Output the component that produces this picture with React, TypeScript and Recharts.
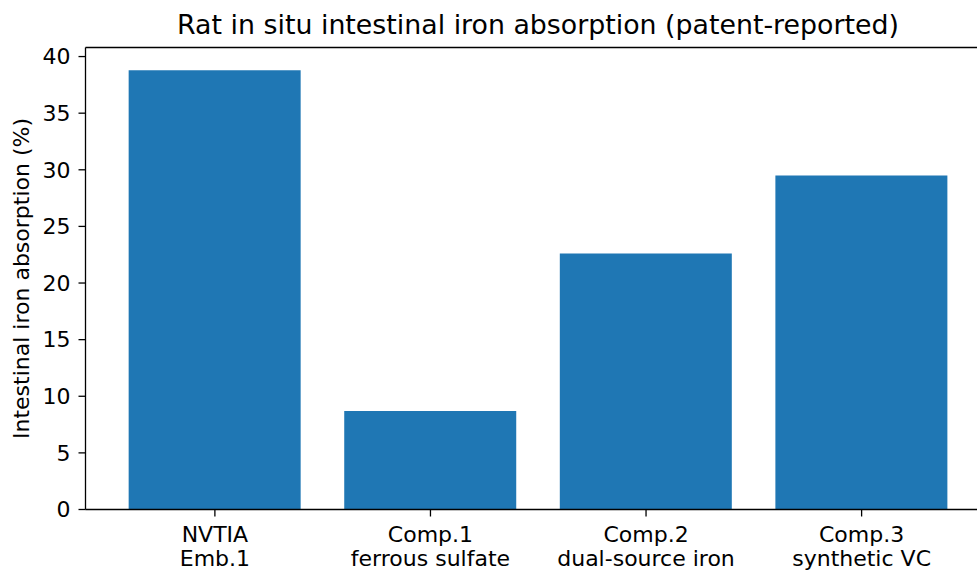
import React from "react";
import { BarChart, Bar, XAxis, YAxis, ReferenceLine } from "recharts";

const categories = ["NVTIA\nEmb.1", "Comp.1\nferrous sulfate", "Comp.2\ndual-source iron", "Comp.3\nsynthetic VC"];
const absorption = [38.8, 8.7, 22.6, 29.5];
const yTicks = [0, 5, 10, 15, 20, 25, 30, 35, 40];
const yMax = 40.8;

const data = categories.map((c, i) => ({ name: c, value: absorption[i] }));

const FONT = "DejaVu Sans";

const TwoLineTick = (props: any) => {
  const { x, y, payload } = props;
  const lines = String(payload.value).split("\n");
  return (
    <text x={x} y={y} textAnchor="middle" fontFamily={FONT} fontSize={22} fill="#000">
      {lines.map((l, i) => (
        <tspan key={i} x={x} dy={i === 0 ? 25 : 24}>
          {l}
        </tspan>
      ))}
    </text>
  );
};

export default function App() {
  return (
    <div style={{ position: "absolute", left: 0, top: 0, width: 977, height: 570, overflow: "hidden", background: "#fff" }}>
      <svg style={{ position: "absolute", left: 0, top: 0 }} width={977} height={60}>
        <text x={538} y={34} textAnchor="middle" fontFamily={FONT} fontSize={26.8} fill="#000">
          Rat in situ intestinal iron absorption (patent-reported)
        </text>
      </svg>
      <svg style={{ position: "absolute", left: 0, top: 0 }} width={60} height={570}>
        <text
          x={0}
          y={0}
          transform="translate(29,278.5) rotate(-90)"
          textAnchor="middle"
          fontFamily={FONT}
          fontSize={22}
          fill="#000"
        >
          Intestinal iron absorption (%)
        </text>
      </svg>
      <div style={{ position: "absolute", left: 0, top: 0 }}>
        <BarChart
          width={1000}
          height={570}
          data={data}
          margin={{ top: 47.5, right: 9, bottom: 0.5, left: 0 }}
          barCategoryGap="10%"
        >
          <XAxis
            dataKey="name"
            interval={0}
            height={60}
            padding={{ left: 21.6, right: 21.6 }}
            tickSize={7}
            tickMargin={0}
            tick={<TwoLineTick />}
            axisLine={{ stroke: "#000", strokeWidth: 1.3 }}
            tickLine={{ stroke: "#000", strokeWidth: 1.3 }}
          />
          <YAxis
            width={85.5}
            domain={[0, yMax]}
            ticks={yTicks}
            tickSize={7}
            tickMargin={8}
            tick={{ fontFamily: FONT, fontSize: 22, fill: "#000" }}
            axisLine={{ stroke: "#000", strokeWidth: 1.3 }}
            tickLine={{ stroke: "#000", strokeWidth: 1.3 }}
          />
          <ReferenceLine y={yMax} stroke="#000" strokeWidth={1.3} ifOverflow="visible" />
          <Bar dataKey="value" fill="#1f77b4" isAnimationActive={false} />
        </BarChart>
      </div>
    </div>
  );
}
